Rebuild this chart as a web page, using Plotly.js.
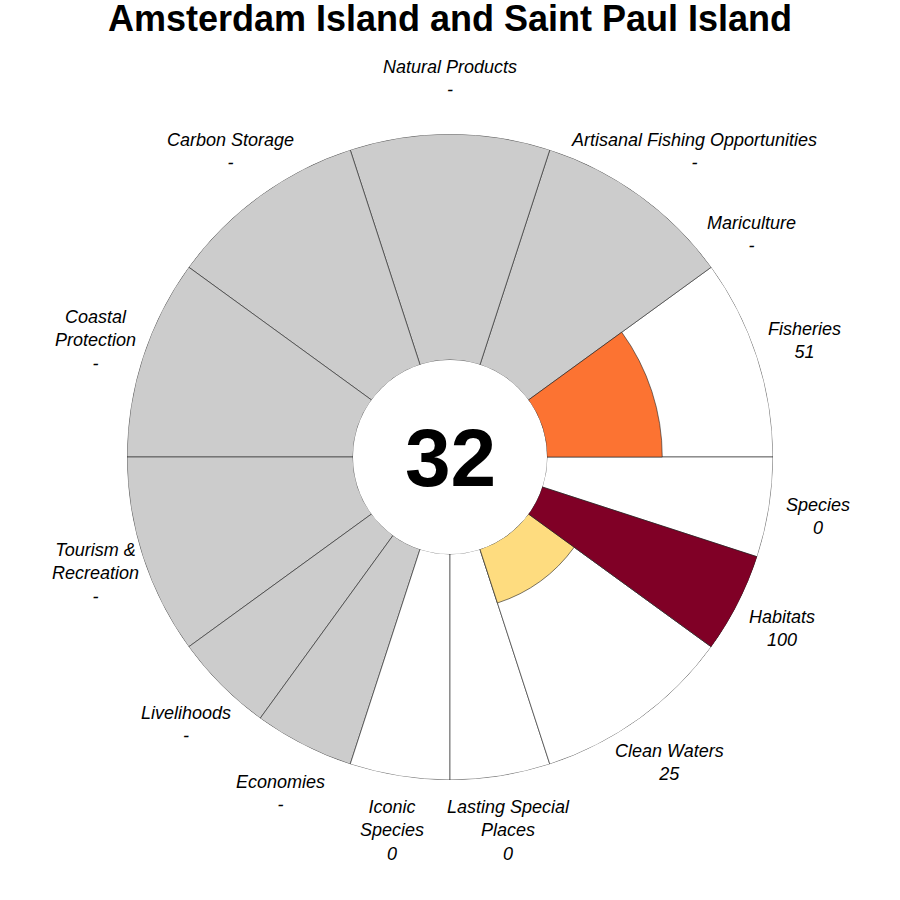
<!DOCTYPE html>
<html>
<head>
<meta charset="utf-8">
<script src="https://cdn.plot.ly/plotly-3.0.1.min.js"></script>
<style>
	html, body {margin: 0; padding: 0; background: #fff;}
	#chart {width: 900px; height: 900px;}
</style>
</head>
<body>
<div id="chart"></div>
<script>
const region = "Amsterdam Island and Saint Paul Island";
const overall_score = 32;

// goals in drawing order, counterclockwise from east
const goals = ["Fisheries", "Mariculture", "Artisanal Fishing Opportunities", "Natural Products",
	"Carbon Storage", "Coastal Protection", "Tourism & Recreation", "Livelihoods", "Economies",
	"Iconic Species", "Lasting Special Places", "Clean Waters", "Habitats", "Species"];
const goal_labels = ["Fisheries", "Mariculture", "Artisanal Fishing Opportunities", "Natural Products",
	"Carbon Storage", "Coastal<br>Protection", "Tourism &amp;<br>Recreation", "Livelihoods", "Economies",
	"Iconic<br>Species", "Lasting Special<br>Places", "Clean Waters", "Habitats", "Species"];
const scores = [51, null, null, null, null, null, null, null, null, 0, 0, 25, 100, 0];
const weights = [1, 0, 1, 1, 1, 1, 1, 0.5, 0.5, 0.5, 0.5, 1, 0.5, 0.5];

// sector geometry from weights
const total_weight = weights.reduce((a, b) => a + b, 0);
let start = 0;
const thetas = [];
const widths = [];
weights.forEach(w => {
	const width = w / total_weight * 360;
	thetas.push(start + width / 2);
	widths.push(width);
	start += width;
});

const keep = goals.map((g, i) => weights[i] > 0);
const pick = arr => arr.filter((v, i) => keep[i]);

// polar placement in pixels
const cx = 450, cy = 457, radius = 323;
const label_rx = 373, label_ry = 378;

const background = {
	type: 'barpolar',
	theta: pick(thetas),
	width: pick(widths),
	r: pick(scores).map(() => 100),
	marker: {
		color: pick(scores).map(s => s === null ? '#cccccc' : '#ffffff'),
		line: {color: '#222222', width: 0.6}
	},
	hoverinfo: 'skip'
};

const score_bars = {
	type: 'barpolar',
	theta: pick(thetas),
	width: pick(widths),
	r: pick(scores).map(s => s === null ? 0 : s),
	text: pick(goals),
	marker: {
		color: pick(scores).map(s => s === null ? 0 : s),
		cmin: 0,
		cmax: 100,
		colorscale: [[0, '#ffffcc'], [0.25, '#fedc7f'], [0.51, '#fc7332'], [0.75, '#e31a1c'], [1, '#800026']],
		line: {color: '#222222', width: 0.6}
	}
};

const annotations = goals.map((g, i) => {
	const a = thetas[i] * Math.PI / 180;
	const value = scores[i] === null ? '-' : String(scores[i]);
	return {
		xref: 'paper', yref: 'paper',
		x: (cx + label_rx * Math.cos(a)) / 900,
		y: 1 - (cy - label_ry * Math.sin(a)) / 900,
		// the long artisanal label is pushed outward a little
		xshift: g === "Artisanal Fishing Opportunities" ? 25 : 0,
		text: '<i>' + goal_labels[i] + '<br>' + value + '</i>',
		showarrow: false,
		xanchor: 'center', yanchor: 'middle',
		align: 'center',
		font: {family: 'Liberation Sans, Arial, sans-serif', size: 18, color: '#000'}
	};
});

annotations.push({
	xref: 'paper', yref: 'paper',
	x: cx / 900, y: 1 - cy / 900,
	text: '<b>' + overall_score + '</b>',
	showarrow: false,
	xanchor: 'center', yanchor: 'middle',
	font: {family: 'Liberation Sans, Arial, sans-serif', size: 82, color: '#000'}
});

const layout = {
	width: 900,
	height: 900,
	margin: {l: 0, r: 0, t: 0, b: 0},
	paper_bgcolor: '#ffffff',
	showlegend: false,
	title: {
		text: '<b>' + region + '</b>',
		x: 0.5, xref: 'paper',
		y: 1 - 18 / 900, yref: 'container', yanchor: 'middle',
		font: {family: 'Liberation Sans, Arial, sans-serif', size: 36, color: '#000'}
	},
	polar: {
		domain: {
			x: [(cx - radius) / 900, (cx + radius) / 900],
			y: [1 - (cy + radius) / 900, 1 - (cy - radius) / 900]
		},
		hole: 97 / 323,
		barmode: 'overlay',
		bgcolor: '#ffffff',
		radialaxis: {range: [0, 100], visible: false, showgrid: false},
		angularaxis: {
			visible: false, showgrid: false,
			direction: 'counterclockwise', rotation: 0
		}
	},
	annotations: annotations
};

Plotly.newPlot('chart', [background, score_bars], layout, {displayModeBar: false, staticPlot: true});
</script>
</body>
</html>
